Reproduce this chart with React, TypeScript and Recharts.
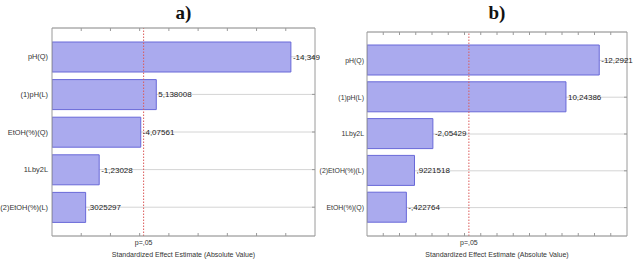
import { Bar, BarChart, CartesianGrid, LabelList, ReferenceLine, XAxis, YAxis } from "recharts"

// Pareto charts of standardized effects, two models side by side
const factorsA = ["pH(Q)", "(1)pH(L)", "EtOH(%)(Q)", "1Lby2L", "(2)EtOH(%)(L)"]
const effectsA = [-14.349, 5.138008, -4.07561, -1.23028, 0.3025297]

const factorsB = ["pH(Q)", "(1)pH(L)", "1Lby2L", "(2)EtOH(%)(L)", "EtOH(%)(Q)"]
const effectsB = [-12.2921, 10.24386, -2.05429, 0.9221518, -0.422764]

const domainA: [number, number] = [-2, 16]
const domainB: [number, number] = [-2, 14]
const ticksA = [0, 2, 4, 6, 8, 10, 12, 14]
const ticksB = [-1, 0, 1, 2, 3, 4, 5, 6, 7, 8, 9, 10, 11, 12, 13]

// t value for p = .05
const pCrit = 4.27

// statistica style: 7 significant digits, comma decimal, no leading zero
function fmt(v: number) {
  let s = v.toPrecision(7)
  if (s.includes(".")) s = s.replace(/0+$/, "").replace(/\.$/, "")
  return s.replace(/^(-?)0\./, "$1.").replace(".", ",")
}

const font = "'Liberation Sans', Arial, sans-serif"
const border = "#9a9a9a"

type PanelProps = {
  title: string
  factors: string[]
  effects: number[]
  domain: [number, number]
  ticks: number[]
  left: number
  width: number
  yWidth: number
  labelGap: number
  labelSize: number
  top: number
  right: number
}

function Panel(p: PanelProps) {
  const { title, factors, effects, domain, ticks, left, width, yWidth, labelGap, labelSize, top, right } = p
  const data = factors.map((f, i) => ({
    factor: f,
    range: [domain[0], Math.abs(effects[i])],
    label: fmt(effects[i]),
  }))
  const plotLeft = yWidth
  const plotRight = width - right
  return (
    <div style={{ position: "absolute", left, top: 0, width, height: 262 }}>
      <div
        style={{
          position: "absolute",
          left: plotLeft,
          width: plotRight - plotLeft,
          top: 3,
          textAlign: "center",
          fontFamily: "'Liberation Serif', 'Times New Roman', serif",
          fontWeight: "bold",
          fontSize: 19,
          lineHeight: "19px",
          color: "#111",
        }}
      >
        {title}
      </div>
      <div
        style={{
          position: "absolute",
          left: plotLeft,
          width: plotRight - plotLeft,
          top: 251,
          textAlign: "center",
          fontFamily: font,
          fontSize: 7,
          lineHeight: "8px",
          color: "#333",
        }}
      >
        Standardized Effect Estimate (Absolute Value)
      </div>
      <BarChart
        width={width}
        height={262}
        data={data}
        layout="vertical"
        margin={{ top, right, bottom: 26, left: 0 }}
      >
        <CartesianGrid horizontal vertical={false} stroke="#d4d4d4" yAxisId="left" xAxisId="bottom" />
        <XAxis
          xAxisId="bottom"
          type="number"
          domain={domain}
          ticks={ticks}
          allowDataOverflow
          mirror
          tickSize={3}
          tickFormatter={() => ""}
          stroke={border}
        />
        <XAxis
          xAxisId="top"
          orientation="top"
          type="number"
          domain={domain}
          ticks={ticks}
          allowDataOverflow
          mirror
          tickSize={3}
          tickFormatter={() => ""}
          stroke={border}
        />
        <YAxis
          yAxisId="left"
          type="category"
          dataKey="factor"
          width={yWidth}
          padding={{ top: 10, bottom: 10 }}
          tickLine={false}
          tickSize={0}
          tickMargin={labelGap}
          stroke={border}
          tick={{ fontSize: labelSize, fill: "#333", fontFamily: font }}
        />
        <YAxis
          yAxisId="right"
          orientation="right"
          type="category"
          dataKey="factor"
          mirror
          padding={{ top: 10, bottom: 10 }}
          tickSize={3}
          tickFormatter={() => ""}
          stroke={border}
        />
        <Bar
          dataKey="range"
          xAxisId="bottom"
          yAxisId="left"
          barSize={30}
          fill="#aaaaee"
          stroke="#6868d8"
          strokeWidth={1}
          isAnimationActive={false}
        >
          <LabelList dataKey="label" position="right" offset={2} fill="#222" fontSize={8} fontFamily={font} />
        </Bar>
        <ReferenceLine
          x={pCrit}
          xAxisId="bottom"
          yAxisId="left"
          stroke="#dc5a5a"
          strokeDasharray="1.5 1.5"
          label={{ value: "p=,05", position: "bottom", offset: 4, fontSize: 7, fill: "#333", fontFamily: font }}
        />
      </BarChart>
    </div>
  )
}

export default function App() {
  return (
    <div style={{ position: "relative", width: 633, height: 262, background: "#fff" }}>
      <style>{"body{margin:0}"}</style>
      <Panel
        title="a)"
        factors={factorsA}
        effects={effectsA}
        domain={domainA}
        ticks={ticksA}
        left={0}
        width={320}
        yWidth={52}
        labelGap={4}
        labelSize={7.4}
        top={28}
        right={5}
      />
      <Panel
        title="b)"
        factors={factorsB}
        effects={effectsB}
        domain={domainB}
        ticks={ticksB}
        left={318}
        width={315}
        yWidth={49}
        labelGap={3}
        labelSize={6.9}
        top={32}
        right={6}
      />
    </div>
  )
}
